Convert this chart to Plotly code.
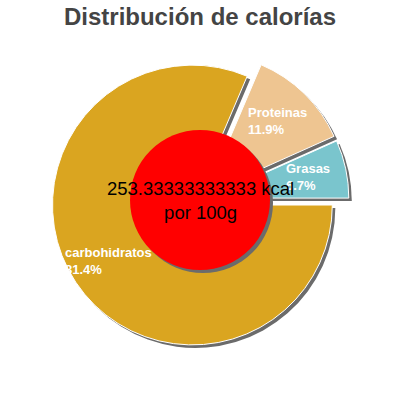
import math
import plotly.graph_objects as go

# data
nutrientes = ['carbohidratos', 'Proteinas', 'Grasas']
porcentajes = [81.4, 11.9, 6.7]
colores = ['#DAA520', '#EEC591', '#7AC5CD']
kcal_texto = '253.33333333333 kcal'
por_texto = 'por 100g'
titulo = 'Distribución de calorías'

pull = 0.065
# pie box in paper units (about 298px wide, centred on the page)
lado = 298 / 400
x0, x1 = 0.5 - lado / 2, 0.5 + lado / 2
# shadow shift, 3px right and down
sh = 3 / 400
fuente = 'Liberation Sans, Arial'

fig = go.Figure()

# grey shadow pie under the real one
fig.add_trace(go.Pie(
    labels=nutrientes,
    values=porcentajes,
    sort=False,
    direction='clockwise',
    rotation=90,
    pull=pull,
    marker=dict(colors=['#6b6b6b'] * 3, line=dict(width=0)),
    textinfo='none',
    hoverinfo='skip',
    showlegend=False,
    domain=dict(x=[x0 + sh, x1 + sh], y=[x0 - sh, x1 - sh]),
))

fig.add_trace(go.Pie(
    labels=nutrientes,
    values=porcentajes,
    sort=False,
    direction='clockwise',
    rotation=90,
    pull=pull,
    marker=dict(colors=colores, line=dict(color='white', width=1)),
    textinfo='none',
    showlegend=False,
    domain=dict(x=[x0, x1], y=[x0, x1]),
))

# red disc in the middle, with its shadow
r = 70 / 400
fig.add_shape(type='circle', xref='paper', yref='paper',
              x0=0.5 - r + sh, x1=0.5 + r + sh, y0=0.5 - r - sh, y1=0.5 + r - sh,
              fillcolor='#6b6b6b', line=dict(width=0), layer='above')
fig.add_shape(type='circle', xref='paper', yref='paper',
              x0=0.5 - r, x1=0.5 + r, y0=0.5 - r, y1=0.5 + r,
              fillcolor='#FF0000', line=dict(width=0), layer='above')

# slice labels, left aligned, sitting ~110px out along each slice's middle angle
total = sum(porcentajes)
inicio = 90.0
for nombre, valor in zip(nutrientes, porcentajes):
    medio = math.radians(inicio + valor / total * 360 / 2)
    inicio += valor / total * 360
    fig.add_annotation(
        x=0.5 + 110 / 400 * math.sin(medio),
        y=0.5 + 110 / 400 * math.cos(medio),
        xref='paper', yref='paper',
        xanchor='center', yanchor='middle', align='left',
        text='<b>%s<br>%.1f%%</b>' % (nombre, valor / total * 100),
        showarrow=False,
        font=dict(family=fuente, size=13, color='white'),
    )

fig.add_annotation(
    x=0.5, y=0.5, xref='paper', yref='paper',
    text=kcal_texto + '<br>' + por_texto,
    showarrow=False,
    font=dict(family=fuente, size=18.5, color='black'),
)

fig.update_layout(
    width=400, height=400,
    margin=dict(l=0, r=0, t=0, b=0),
    paper_bgcolor='white',
    title=dict(text='<b>' + titulo + '</b>', x=0.5, xanchor='center',
               y=1 - 17 / 400, yanchor='middle',
               font=dict(family=fuente, size=24, color='#444444')),
)

fig.write_html('out.html', config={'displayModeBar': False},
               post_script="document.body.style.margin='0px';")
